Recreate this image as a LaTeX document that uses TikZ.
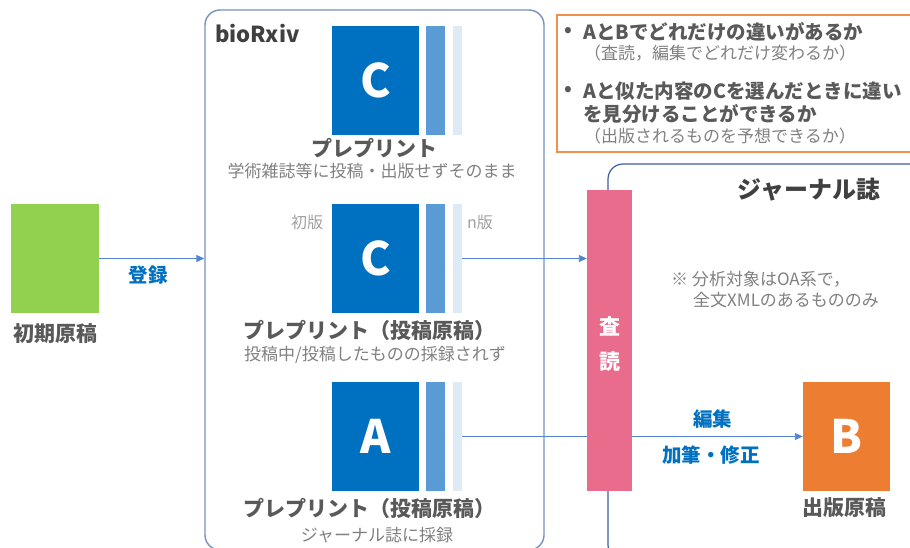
\documentclass[tikz,border=0pt]{standalone}
\usepackage{fontspec}
\setmainfont{Noto Sans CJK JP}
\usetikzlibrary{arrows.meta}
\definecolor{ink}{HTML}{595959}
\definecolor{darkink}{HTML}{404040}
\definecolor{subink}{HTML}{808080}
\definecolor{pale}{HTML}{A0A0A0}
\definecolor{docblue}{HTML}{0070C0}
\definecolor{midblue}{HTML}{5B9BD5}
\definecolor{lightblue}{HTML}{DEEBF7}
\definecolor{leaf}{HTML}{92D050}
\definecolor{rose}{HTML}{E96C8C}
\definecolor{amber}{HTML}{ED7D31}
\definecolor{frame}{HTML}{7790BE}
\definecolor{jframe}{HTML}{3C5C9C}
\definecolor{linkblue}{HTML}{5585D0}
\begin{document}
\begin{tikzpicture}[x=1pt,y=-1pt,
  doc/.style={inner sep=0pt, minimum width=87pt, minimum height=109pt, text=white, font=\fontsize{46}{46}\selectfont\bfseries},
  midbar/.style={fill=midblue, inner sep=0pt, minimum width=19pt, minimum height=109pt},
  lightbar/.style={fill=lightblue, inner sep=0pt, minimum width=9pt, minimum height=109pt},
  title/.style={text=ink, font=\fontsize{21}{21}\selectfont\bfseries, inner sep=0pt},
  sub/.style={text=subink, font=\fontsize{17}{17}\selectfont, inner sep=0pt},
  tag/.style={text=docblue, font=\fontsize{19.5}{19.5}\selectfont\bfseries, inner sep=0pt},
  link/.style={linkblue, line width=0.9pt},
  tip/.style={-{Triangle[length=8pt,width=7pt]}}]
\useasboundingbox (0,0) rectangle (910,547);
\clip (0,0) rectangle (910,547);
% frames
\node[draw=frame, line width=1.4pt, rounded corners=15pt, minimum width=339pt, minimum height=540pt] (biorxiv) at (374.5,280){};
\node[draw=jframe, line width=1.2pt, rounded corners=15pt, minimum width=332pt, minimum height=396pt] (journal) at (774,362){};
\node[draw=amber!85, line width=1.1pt, minimum width=383pt, minimum height=137pt] (qbox) at (748.5,83.5){};
\node[anchor=west, text=darkink, font=\fontsize{22}{22}\selectfont\bfseries, inner sep=0pt] (brx) at (215,34){bioRxiv};
\node[text=darkink, font=\fontsize{24}{24}\selectfont\bfseries, inner sep=0pt] (jname) at (809,190){ジャーナル誌};
% initial draft
\node[fill=leaf, inner sep=0pt, minimum width=88pt, minimum height=109pt] (init) at (55,258.5){};
\node[title] (initlbl) at (55,334){初期原稿};
% preprint C
\node[doc, fill=docblue] (c1) at (375.5,80.5){C};
\node[midbar] (c1m) at (435.5,80.5){};
\node[lightbar] (c1l) at (457.5,80.5){};
\node[title] (c1lbl) at (374,148){プレプリント};
\node[sub] (c1sub) at (372,171){学術雑誌等に投稿・出版せずそのまま};
% preprint C (submitted)
\node[doc, fill=docblue] (c2) at (375.5,258.5){C};
\node[midbar] (c2m) at (435.5,258.5){};
\node[lightbar] (c2l) at (457.5,258.5){};
\node[text=pale, font=\fontsize{16}{16}\selectfont, inner sep=0pt] (first) at (307,222){初版};
\node[text=pale, font=\fontsize{16}{16}\selectfont, inner sep=0pt] (last) at (480,222){n版};
\node[title] (c2lbl) at (369,330){プレプリント（投稿原稿）};
\node[sub] (c2sub) at (375,355){投稿中/投稿したものの採録されず};
% preprint A
\node[doc, fill=docblue] (a) at (375.5,436.5){A};
\node[midbar] (am) at (435.5,436.5){};
\node[lightbar] (al) at (457.5,436.5){};
\node[title] (albl) at (369,508){プレプリント（投稿原稿）};
\node[sub] (asub) at (377,535){ジャーナル誌に採録};
% review
\node[fill=rose, inner sep=0pt, minimum width=45pt, minimum height=301pt] (review) at (609.5,340.5){};
\node[text=white, font=\fontsize{21}{21}\selectfont\bfseries, inner sep=0pt] (rv1) at (609.5,326){査};
\node[text=white, font=\fontsize{21}{21}\selectfont\bfseries, inner sep=0pt] (rv2) at (609.5,362){読};
% published B
\node[doc, fill=amber] (b) at (846.5,436.5){B};
\node[title] (blbl) at (844,508){出版原稿};
\node[sub, anchor=west] (note1) at (671,279){※ 分析対象はOA系で，};
\node[sub, anchor=west] (note2) at (693,300){全文XMLのあるもののみ};
% questions
\node[text=ink, font=\fontsize{19.5}{19.5}\selectfont\bfseries, inner sep=0pt] (dot1) at (568,32){•};
\node[text=ink, font=\fontsize{19.5}{19.5}\selectfont\bfseries, inner sep=0pt, anchor=west] (q1) at (583,32){AとBでどれだけの違いがあるか};
\node[sub, anchor=west] (q1sub) at (584,53){（査読，編集でどれだけ変わるか）};
\node[text=ink, font=\fontsize{19.5}{19.5}\selectfont\bfseries, inner sep=0pt] (dot2) at (568,91){•};
\node[text=ink, font=\fontsize{19.5}{19.5}\selectfont\bfseries, inner sep=0pt, anchor=west] (q2) at (583,91){Aと似た内容のCを選んだときに違い};
\node[text=ink, font=\fontsize{19.5}{19.5}\selectfont\bfseries, inner sep=0pt, anchor=west] (q2b) at (583,114){を見分けることができるか};
\node[sub, anchor=west] (q2sub) at (584,136){（出版されるものを予想できるか）};
% connectors
\draw[link, tip](init.east) -- (init.east -| biorxiv.west);
\node[tag] (reg) at (148,275){登録};
\draw[link, tip](c2l.east) -- (c2l.east -| review.west);
\draw[link](al.east) -- (al.east -| review.west);
\draw[link, tip](review.east |- b.west) -- (b.west);
\node[tag] (edit) at (712.5,419){編集};
\node[tag] (fix) at (711,455){加筆・修正};
\end{tikzpicture}
\end{document}
